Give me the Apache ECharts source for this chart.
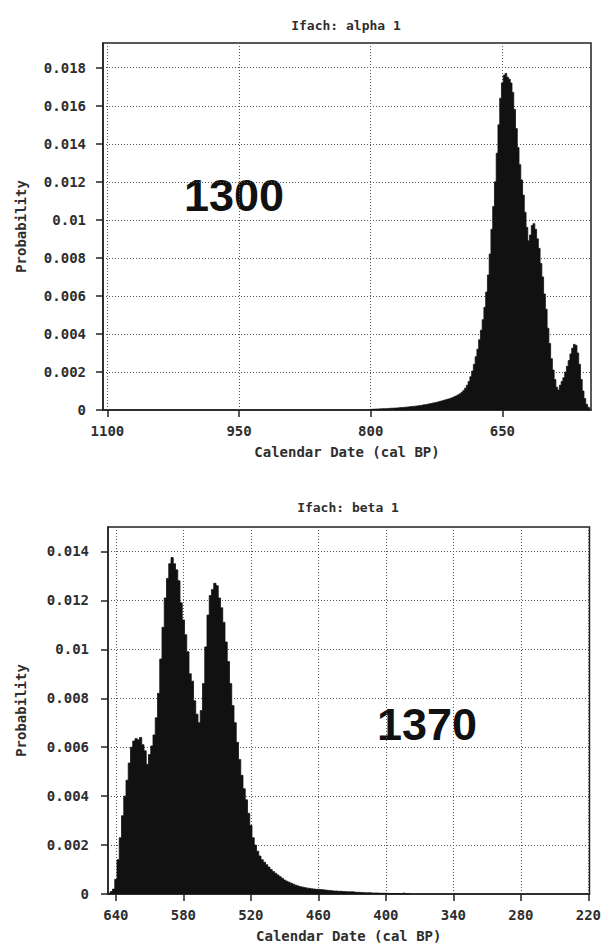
<!DOCTYPE html>
<html><head><meta charset="utf-8">
<script src="https://cdn.jsdelivr.net/npm/echarts@6/dist/echarts.min.js"></script>
<style>html,body{margin:0;padding:0;background:#fff}#c{width:604px;height:944px}</style>
</head><body><div id="c"></div>
<script>
// ---- text ----
const alphaTitle = 'Ifach: alpha 1';
const betaTitle = 'Ifach: beta 1';
const alphaBigLabel = '1300';
const betaBigLabel = '1370';
const xAxisName = 'Calendar Date (cal BP)';
const yAxisName = 'Probability';

// ---- axes ----
const binStep = 2;                       // years per histogram bin
const alphaAxisYears = [1104, 550];      // first / last bin on the x axis
const betaAxisYears = [646, 220];
const alphaTickYears = [1100, 950, 800, 650];
const betaTickYears = [640, 580, 520, 460, 400, 340, 280, 220];
const alphaYTicks = [0, 0.002, 0.004, 0.006, 0.008, 0.01, 0.012, 0.014, 0.016, 0.018];
const betaYTicks = [0, 0.002, 0.004, 0.006, 0.008, 0.01, 0.012, 0.014];
const alphaYMax = 0.0193;
const betaYMax = 0.0150;

// ---- data: probability per 2-year bin, from start year downwards ----
const alphaStartYear = 800;
const alphaProb = [
  0.00003,0.00004,0.00004,0.00005,0.00005,0.00006,0.00006,0.00007,0.00007,0.00008,
  0.00008,0.00009,0.00009,0.0001,0.0001,0.00011,0.00012,0.00013,0.00013,0.00014,
  0.00015,0.00016,0.00017,0.00018,0.00019,0.0002,0.00021,0.00022,0.00024,0.00025,
  0.00027,0.00028,0.0003,0.00032,0.00034,0.00036,0.00038,0.0004,0.00042,0.00045,
  0.00047,0.0005,0.00053,0.00055,0.00058,0.00061,0.00064,0.00067,0.00071,0.00075,
  0.0008,0.00086,0.00093,0.00102,0.00115,0.0013,0.0015,0.00175,0.00205,0.0024,
  0.0028,0.0032,0.0037,0.0042,0.00475,0.0054,0.0062,0.0071,0.0082,0.0095,
  0.0107,0.012,0.0135,0.015,0.0164,0.0172,0.0176,0.0177,0.0175,0.0174,
  0.0172,0.0167,0.0158,0.0148,0.0138,0.0129,0.0121,0.0113,0.0104,0.0096,
  0.0089,0.0092,0.0097,0.0098,0.0095,0.009,0.0085,0.0077,0.007,0.0061,
  0.0053,0.0043,0.0035,0.0027,0.0021,0.0016,0.0012,0.00105,0.0013,0.0015,
  0.0017,0.002,0.0023,0.0026,0.00295,0.00325,0.00345,0.0034,0.003,0.0024,
  0.0016,0.001,0.0006,0.0003,0.00015,0.00008
];
const betaStartYear = 646;
const betaProb = [
  0.00003,0.0001,0.0002,0.0006,0.0014,0.0023,0.0032,0.004,0.00465,0.00535,
  0.006,0.00625,0.00635,0.0063,0.0064,0.0061,0.00585,0.0053,0.0057,0.00605,
  0.0065,0.0072,0.0082,0.0096,0.0109,0.0121,0.0129,0.0135,0.01375,0.0135,
  0.01325,0.0128,0.0119,0.0112,0.0106,0.0099,0.009,0.0087,0.0079,0.00735,
  0.007,0.0075,0.0086,0.0101,0.0114,0.0122,0.01245,0.0127,0.0126,0.0121,
  0.0117,0.0111,0.0103,0.0095,0.0086,0.0077,0.007,0.0062,0.0055,0.00485,
  0.0043,0.00385,0.0033,0.0028,0.0023,0.002,0.00175,0.00155,0.0014,0.0013,
  0.0012,0.0011,0.001,0.00092,0.00085,0.00078,0.00071,0.00064,0.00057,0.00052,
  0.00048,0.00044,0.0004,0.00036,0.00033,0.0003,0.00028,0.00026,0.00024,0.00023,
  0.00021,0.0002,0.00019,0.00019,0.00018,0.00017,0.00016,0.00015,0.00014,0.00013,
  0.00012,0.00012,0.00011,0.00011,0.0001,0.0001,0.00009,0.00009,0.00009,0.00008,
  0.00007,0.00007,0.00006,0.00006,0.00005,0.00005,0.00005,0.00004,0.00004,0.00004,
  0.00003,0.00003,0.00003,0.00003,0.00002,0.00002,0.00002,0.00002,0.00001,0.00001,
  0.00002,0.00004,0.00001,0.00001
];

// ---- build ----
function yearCats(range) {
  const out = [];
  for (let y = range[0]; y >= range[1]; y -= binStep) out.push(String(y));
  return out;
}
function seriesData(cats, start, probs) {
  return cats.map(c => {
    const i = (start - Number(c)) / binStep;
    return (i >= 0 && i < probs.length) ? probs[i] : null;
  });
}
const alphaCats = yearCats(alphaAxisYears);
const betaCats = yearCats(betaAxisYears);

const mono = '"DejaVu Sans Mono", monospace';
const fs = 14;
const txt = '#2e2e2e';
const axisCol = '#222';
const gridCol = '#555';

function xAxisCfg(gi, cats, ticks) {
  const set = new Set(ticks.map(String));
  const f = (i, v) => set.has(String(v));
  return {
    type: 'category', gridIndex: gi, data: cats, boundaryGap: true,
    axisLine: { show: true, onZero: false, lineStyle: { color: axisCol, width: 1.5 } },
    axisTick: { show: true, interval: f, alignWithLabel: true, length: 7, lineStyle: { color: axisCol, width: 1.5 } },
    axisLabel: { show: true, interval: f, margin: 14, color: txt, fontFamily: mono, fontWeight: 'bold', fontSize: fs },
    splitLine: { show: true, interval: f, alignWithLabel: true, lineStyle: { color: gridCol, type: [1, 2], width: 1 } },
    name: xAxisName, nameLocation: 'middle', nameGap: 35,
    nameTextStyle: { color: txt, fontFamily: mono, fontWeight: 'bold', fontSize: fs }
  };
}
function yAxisCfg(gi, max, ticks, margin, gap) {
  return {
    type: 'value', gridIndex: gi, min: 0, max: max, interval: 0.002,
    axisLine: { show: true, lineStyle: { color: axisCol, width: 1.5 } },
    axisTick: { show: true, customValues: ticks, length: 7, lineStyle: { color: axisCol, width: 1.5 } },
    axisLabel: { customValues: ticks, margin: margin, color: txt, fontFamily: mono, fontWeight: 'bold', fontSize: fs,
      formatter: v => String(parseFloat(Number(v).toFixed(6))) },
    splitLine: { show: true, lineStyle: { color: gridCol, type: [1, 2], width: 1 } },
    name: yAxisName, nameLocation: 'middle', nameRotate: 90, nameGap: gap,
    nameTextStyle: { color: txt, fontFamily: mono, fontWeight: 'bold', fontSize: fs }
  };
}
function histSeries(gi, data) {
  return {
    type: 'line', xAxisIndex: gi, yAxisIndex: gi, data: data, step: 'middle',
    showSymbol: false, symbol: 'none', silent: true, animation: false,
    lineStyle: { color: '#111', width: 0.8 },
    areaStyle: { color: '#111', opacity: 1 }
  };
}

const chart = echarts.init(document.getElementById('c'), null, { renderer: 'svg', width: 604, height: 944 });
chart.setOption({
  animation: false,
  backgroundColor: '#fff',
  grid: [
    { left: 103, top: 43, right: 13, height: 367, show: true, borderColor: axisCol, borderWidth: 1.5, backgroundColor: '#fff' },
    { left: 108, top: 527, right: 13, height: 367, show: true, borderColor: axisCol, borderWidth: 1.5, backgroundColor: '#fff' }
  ],
  xAxis: [xAxisCfg(0, alphaCats, alphaTickYears), xAxisCfg(1, betaCats, betaTickYears)],
  yAxis: [yAxisCfg(0, alphaYMax, alphaYTicks, 17, 75), yAxisCfg(1, betaYMax, betaYTicks, 19, 80)],
  series: [
    histSeries(0, seriesData(alphaCats, alphaStartYear, alphaProb)),
    histSeries(1, seriesData(betaCats, betaStartYear, betaProb))
  ],
  graphic: [
    { type: 'text', x: 346, y: 25, style: { text: alphaTitle, fill: txt, font: 'bold 13px ' + mono, align: 'center', verticalAlign: 'middle', textAlign: 'center', textVerticalAlign: 'middle' } },
    { type: 'text', x: 348, y: 507, style: { text: betaTitle, fill: txt, font: 'bold 13px ' + mono, align: 'center', verticalAlign: 'middle', textAlign: 'center', textVerticalAlign: 'middle' } },
    { type: 'text', x: 234, y: 195, style: { text: alphaBigLabel, fill: '#111', font: 'bold 45px "Liberation Sans", Arial, sans-serif', align: 'center', verticalAlign: 'middle', textAlign: 'center', textVerticalAlign: 'middle' } },
    { type: 'text', x: 427, y: 724, style: { text: betaBigLabel, fill: '#111', font: 'bold 45px "Liberation Sans", Arial, sans-serif', align: 'center', verticalAlign: 'middle', textAlign: 'center', textVerticalAlign: 'middle' } }
  ]
});
</script>
</body></html>
